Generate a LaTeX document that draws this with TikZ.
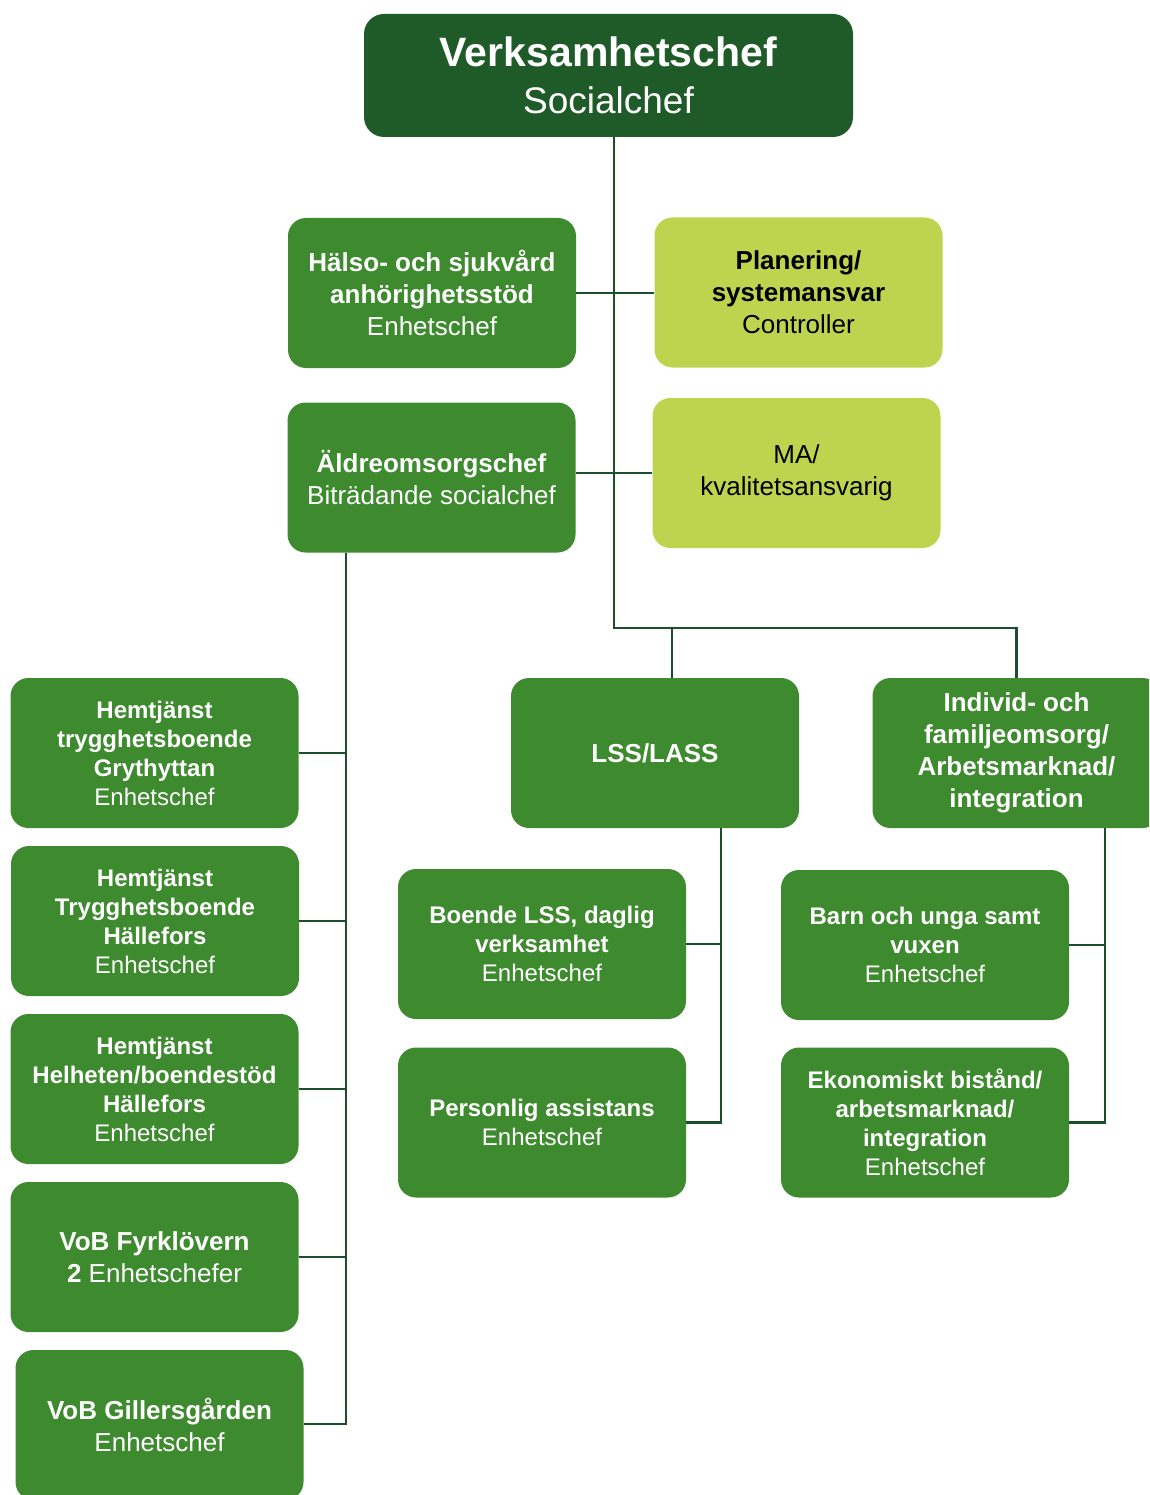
\documentclass[tikz,border=0pt]{standalone}
\usepackage{fontspec}
\setmainfont{Liberation Sans}
\definecolor{topgreen}{HTML}{1E5B28}
\definecolor{midgreen}{HTML}{3E8A2E}
\definecolor{limegreen}{HTML}{BED34E}
\definecolor{linegreen}{HTML}{1C4E2C}
\begin{document}
\begin{tikzpicture}[x=1pt,y=-1pt,
  box/.style={rounded corners=18pt, fill=midgreen, text=white, align=center, inner sep=0pt,
    minimum width=288pt, minimum height=150pt},
  limebox/.style={box, fill=limegreen, text=black},
  fbig/.style={font=\fontsize{26}{32}\selectfont},
  fsmall/.style={font=\fontsize{24}{29}\selectfont},
  conn/.style={draw=linegreen, line width=2.2pt}]
\useasboundingbox (0,0) rectangle (1149,1495);
\clip (0,0) rectangle (1149,1495);

% nodes
\node[box, fill=topgreen, minimum width=489pt, minimum height=123pt, rounded corners=20pt,
  font=\fontsize{41}{47}\selectfont] (top) at (608.5,75.5)
  {\textbf{Verksamhetschef}\\\fontsize{37}{47}\selectfont Socialchef};

\node[box, fbig] (halso) at (432,293) {\textbf{Hälso- och sjukvård}\\\textbf{anhörighetsstöd}\\Enhetschef};
\node[limebox, fbig] (plan) at (798.5,292.5) {\textbf{Planering/}\\\textbf{systemansvar}\\Controller};
\node[box, fbig] (aldre) at (431.5,477.5) {\textbf{Äldreomsorgschef}\\Biträdande socialchef};
\node[limebox, fbig] (ma) at (796.5,473) {MA/\\kvalitetsansvarig};

\node[box, fsmall] (h1) at (154.5,753) {\textbf{Hemtjänst}\\\textbf{trygghetsboende}\\\textbf{Grythyttan}\\Enhetschef};
\node[box, fsmall] (h2) at (155,921) {\textbf{Hemtjänst}\\\textbf{Trygghetsboende}\\\textbf{Hällefors}\\Enhetschef};
\node[box, fsmall] (h3) at (154.5,1089) {\textbf{Hemtjänst}\\\textbf{Helheten/boendestöd}\\\textbf{Hällefors}\\Enhetschef};
\node[box, fbig] (fyr) at (154.5,1257) {\textbf{VoB Fyrklövern}\\\textbf{2} Enhetschefer};
\node[box, fbig] (gill) at (159.5,1425) {\textbf{VoB Gillersgården}\\Enhetschef};

\node[box, fbig] (lss) at (655,753) {\textbf{LSS/LASS}};
\node[box, fbig] (ind) at (1016.5,753) {\textbf{Individ- och}\\\textbf{familjeomsorg/}\\\textbf{Arbetsmarknad/}\\\textbf{integration}};

\node[box, fsmall] (boende) at (542,944) {\textbf{Boende LSS, daglig}\\\textbf{verksamhet}\\Enhetschef};
\node[box, fsmall] (pers) at (542,1122.5) {\textbf{Personlig assistans}\\Enhetschef};
\node[box, fsmall] (barn) at (925,945) {\textbf{Barn och unga samt}\\\textbf{vuxen}\\Enhetschef};
\node[box, fsmall] (eko) at (925,1122.5) {\textbf{Ekonomiskt bistånd/}\\\textbf{arbetsmarknad/}\\\textbf{integration}\\Enhetschef};

% junction coordinates
\coordinate (j1) at (614,628);
\coordinate (j2) at (672,628);
\coordinate (ls) at (346,1424);
\coordinate (lsx) at (721,1127);
\coordinate (rsx) at (1105,1122);

% connectors
\draw[conn] (top.south -| j1) -- (j1) -- (j1 -| ind.north) -- (ind.north);
\draw[conn] (j2) -- (j2 |- lss.north);
\draw[conn] (halso.east) -- (halso.east -| plan.west);
\draw[conn] (ma.west -| aldre.east) -- (ma.west);

\draw[conn] (aldre.south -| ls) -- (ls) -- (ls -| gill.east);
\draw[conn] (h1.east) -- (h1.east -| ls);
\draw[conn] (h2.east) -- (h2.east -| ls);
\draw[conn] (h3.east) -- (h3.east -| ls);
\draw[conn] (fyr.east) -- (fyr.east -| ls);

\draw[conn] (lss.south -| lsx) -- (pers.east -| lsx) -- (pers.east);
\draw[conn] (boende.east) -- (boende.east -| lsx);

\draw[conn] (ind.south -| rsx) -- (eko.east -| rsx) -- (eko.east);
\draw[conn] (barn.east) -- (barn.east -| rsx);
\end{tikzpicture}
\end{document}
